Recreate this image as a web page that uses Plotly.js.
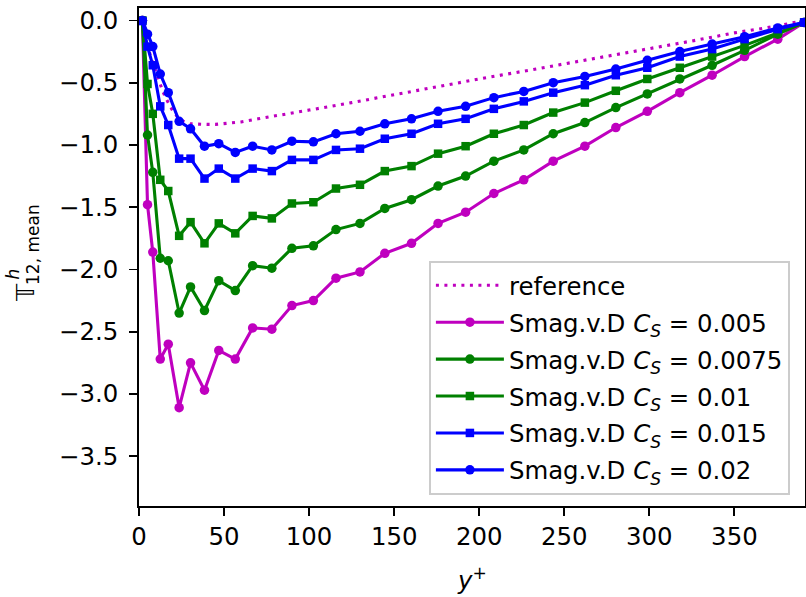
<!DOCTYPE html>
<html><head><meta charset="utf-8">
<script src="https://cdn.plot.ly/plotly-3.0.1.min.js"></script>
<style>html,body{margin:0;padding:0;background:#fff;}</style>
</head><body><div id="chart" style="width:806px;height:597px;"></div>
<script>
// ---- data ----
const yPlus = [2.0, 5.0, 8.1, 12.5, 17.2, 23.6, 30.3, 38.5, 46.9, 56.6, 66.8, 78.1, 89.9, 102.5, 115.8, 129.9, 144.5, 160.2, 175.8, 192.0, 208.6, 226.2, 243.5, 262.1, 280.3, 298.8, 317.9, 336.9, 356.0, 375.5, 391.0];

const refYPlus = [0, 2, 4, 6, 8, 10, 12, 14, 16, 18, 20, 23, 26, 30, 35, 40, 45, 50, 55, 60, 70, 80, 100, 125, 150, 175, 200, 225, 250, 275, 300, 325, 350, 375, 391];
const refValues = [0.0, -0.03, -0.12, -0.25, -0.34, -0.42, -0.50, -0.57, -0.63, -0.68, -0.73, -0.78, -0.81, -0.83, -0.835, -0.835, -0.835, -0.83, -0.825, -0.815, -0.79, -0.765, -0.72, -0.66, -0.595, -0.535, -0.47, -0.41, -0.35, -0.29, -0.225, -0.165, -0.10, -0.045, 0.0];

const cs0050 = [0.0, -1.48, -1.86, -2.72, -2.60, -3.11, -2.75, -2.97, -2.65, -2.72, -2.47, -2.48, -2.29, -2.25, -2.07, -2.02, -1.87, -1.79, -1.63, -1.54, -1.39, -1.28, -1.13, -1.01, -0.86, -0.73, -0.58, -0.44, -0.29, -0.15, -0.016];
const cs0075 = [0.0, -0.92, -1.22, -1.91, -1.93, -2.35, -2.14, -2.33, -2.09, -2.17, -1.97, -1.99, -1.83, -1.81, -1.68, -1.63, -1.51, -1.44, -1.33, -1.25, -1.13, -1.04, -0.91, -0.82, -0.70, -0.59, -0.47, -0.36, -0.24, -0.11, -0.016];
const cs0100 = [0.0, -0.51, -0.75, -1.28, -1.37, -1.73, -1.62, -1.79, -1.63, -1.71, -1.57, -1.59, -1.47, -1.46, -1.35, -1.32, -1.21, -1.17, -1.07, -1.01, -0.91, -0.84, -0.74, -0.66, -0.565, -0.47, -0.38, -0.29, -0.20, -0.10, -0.016];
const cs0150 = [-0.005, -0.21, -0.36, -0.69, -0.84, -1.11, -1.11, -1.27, -1.19, -1.27, -1.19, -1.21, -1.12, -1.12, -1.04, -1.03, -0.95, -0.91, -0.83, -0.79, -0.71, -0.65, -0.58, -0.52, -0.44, -0.38, -0.29, -0.23, -0.15, -0.07, -0.016];
const cs0200 = [0.0, -0.11, -0.21, -0.43, -0.58, -0.81, -0.87, -1.01, -0.99, -1.06, -1.01, -1.04, -0.97, -0.975, -0.91, -0.89, -0.83, -0.79, -0.73, -0.69, -0.62, -0.57, -0.50, -0.45, -0.39, -0.32, -0.25, -0.19, -0.13, -0.06, -0.016];

const seriesLabels = ["reference", "0.005", "0.0075", "0.01", "0.015", "0.02"];
const xTicks = [0, 50, 100, 150, 200, 250, 300, 350];
const yTicks = [0.0, -0.5, -1.0, -1.5, -2.0, -2.5, -3.0, -3.5];

// ---- styling ----
const FONT = "DejaVu Sans";
const FS = 24.4;
const MAG = "#bf00bf", GRN = "#008000", BLU = "#0000ff";
const LW = 3.1;

function smag(vals, cs, color, symbol, size, grp) {
  return {
    x: yPlus, y: vals, type: "scatter", mode: "lines+markers", legendgroup: grp,
    name: "Smag.v.D <i>C</i><sub><i>S</i></sub> = " + cs,
    line: {color: color, width: LW},
    marker: {color: color, symbol: symbol, size: size, line: {width: 0}}
  };
}

const traces = [
  {x: refYPlus, y: refValues, type: "scatter", mode: "lines", name: seriesLabels[0], legendgroup: "g0",
   line: {color: MAG, width: LW, dash: "3px,5.5px"}},
  smag(cs0050, seriesLabels[1], MAG, "circle", 9.5, "g1"),
  smag(cs0075, seriesLabels[2], GRN, "circle", 9.5, "g2"),
  smag(cs0100, seriesLabels[3], GRN, "square", 8.5, "g3"),
  smag(cs0150, seriesLabels[4], BLU, "square", 8.5, "g4"),
  smag(cs0200, seriesLabels[5], BLU, "circle", 9.5, "g5")
];

const L = 139, R = 1, T = 8, B = 91, W = 806, H = 597;
const pw = W - L - R, ph = H - T - B;
const px = p => (p - L) / pw;
const py = p => (H - B - p) / ph;

const layout = {
  width: W, height: H,
  margin: {l: L, r: R, t: T, b: B, pad: 0},
  paper_bgcolor: "#ffffff", plot_bgcolor: "#ffffff",
  font: {family: FONT, size: FS, color: "#000000"},
  showlegend: true,
  xaxis: {
    range: [0, 391.5], tickvals: xTicks, ticktext: xTicks.map(String),
    showgrid: false, zeroline: false, showline: true, mirror: true,
    linecolor: "#000", linewidth: 1.9, ticks: "outside", ticklen: 8, tickwidth: 1.9, tickcolor: "#000",
    tickfont: {family: FONT, size: FS, color: "#000"}
  },
  yaxis: {
    range: [-3.9, 0.1], tickvals: yTicks, tickformat: ".1f",
    showgrid: false, zeroline: false, showline: true, mirror: true,
    linecolor: "#000", linewidth: 1.9, ticks: "outside", ticklen: 8, tickwidth: 1.9, tickcolor: "#000",
    tickfont: {family: FONT, size: FS, color: "#000"}, ticklabelstandoff: 6
  },
  legend: {
    x: px(429), y: py(261), xanchor: "left", yanchor: "top",
    bgcolor: "rgba(255,255,255,0.8)", bordercolor: "#cccccc", borderwidth: 1.9,
    font: {family: FONT, size: FS, color: "#000"},
    tracegroupgap: 2.2, itemwidth: 68, traceorder: "grouped",
    entrywidth: 292, entrywidthmode: "pixels"
  },
  annotations: [
    {xref: "paper", yref: "paper", x: 0.5, y: py(579), text: "<i>y</i><sup>+</sup>", showarrow: false,
     xanchor: "center", yanchor: "middle", font: {family: FONT, size: FS, color: "#000000"}},
    {xref: "paper", yref: "paper", x: px(25), y: py(293), text: "\u{1D54B}", showarrow: false,
     textangle: -90, xanchor: "center", yanchor: "middle", font: {family: FONT, size: FS, color: "#000000"}},
    {xref: "paper", yref: "paper", x: px(12.5), y: py(274), text: "<i>h</i>", showarrow: false,
     textangle: -90, xanchor: "center", yanchor: "middle", font: {family: FONT, size: 17, color: "#000000"}},
    {xref: "paper", yref: "paper", x: px(33), y: py(245), text: "12, mean", showarrow: false,
     textangle: -90, xanchor: "center", yanchor: "middle", font: {family: FONT, size: 17, color: "#000000"}}
  ]
};

Plotly.newPlot("chart", traces, layout, {displayModeBar: false, staticPlot: true});
</script>
</body></html>
